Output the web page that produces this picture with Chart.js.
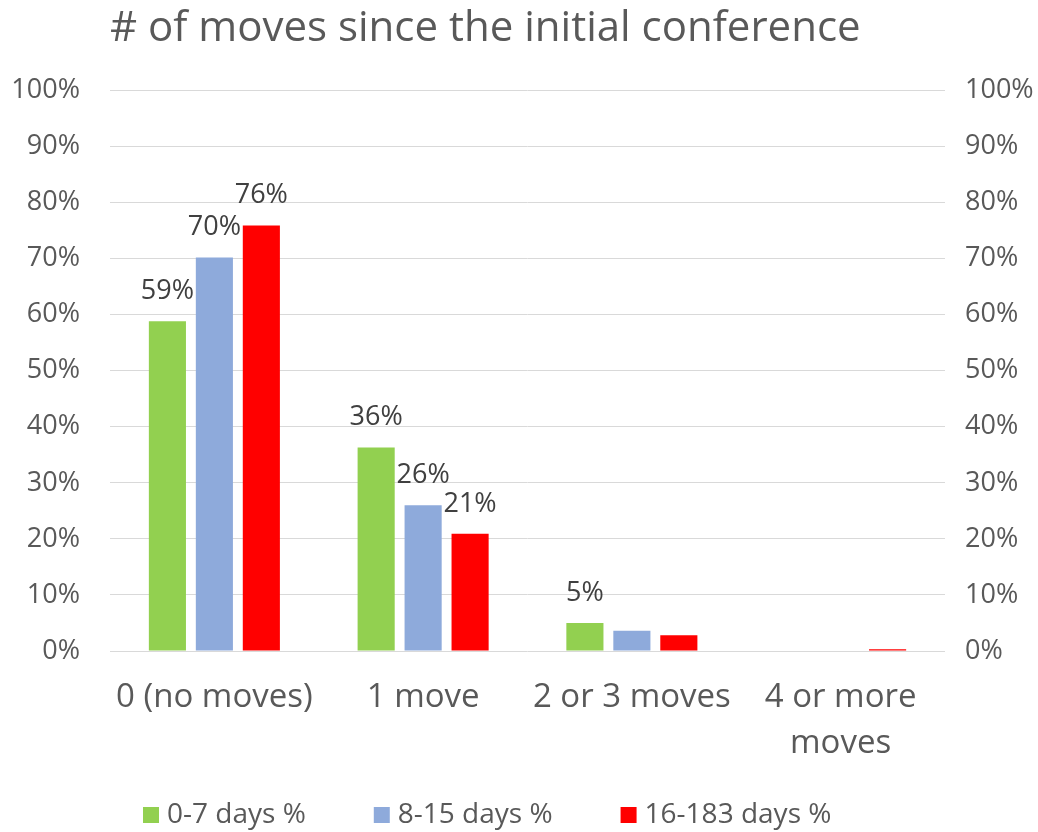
<!DOCTYPE html>
<html>
<head>
<meta charset="utf-8">
<script src="https://cdn.jsdelivr.net/npm/chart.js@4"></script>
<style>
  html, body { margin: 0; padding: 0; background: #fff; }
</style>
</head>
<body>
<canvas id="myChart" width="1038" height="832"></canvas>
<script>
// categories on the x axis (last one wraps on two lines)
const categories = ['0 (no moves)', '1 move', '2 or 3 moves', ['4 or more', 'moves']];
const seriesNames = ['0-7 days %', '8-15 days %', '16-183 days %'];
// percentages
const days0to7 = [58.8, 36.3, 5.0, 0];
const days8to15 = [70.2, 26.0, 3.6, 0];
const days16to183 = [75.9, 20.9, 2.8, 0.3];
const seriesColors = ['#92d050', '#8eaadb', '#ff0000'];

const FONT = 'Open Sans';

// value labels above the bars (small ones are left out, like the original)
const barLabels = {
    id: 'barLabels',
    afterDatasetsDraw(chart) {
        const ctx = chart.ctx;
        ctx.save();
        ctx.font = '27px "' + FONT + '"';
        ctx.fillStyle = '#404040';
        ctx.textAlign = 'center';
        ctx.textBaseline = 'middle';
        chart.data.datasets.forEach((ds, i) => {
            chart.getDatasetMeta(i).data.forEach((bar, j) => {
                const v = ds.data[j];
                if (v < 4.5) return;
                ctx.fillText(Math.round(v) + '%', bar.x, bar.y - 30);
            });
        });
        ctx.restore();
    }
};

// legend row at the bottom, drawn by hand so the spacing matches
const bottomLegend = {
    id: 'bottomLegend',
    afterDraw(chart) {
        const ctx = chart.ctx;
        ctx.save();
        ctx.font = '28px "' + FONT + '"';
        ctx.textAlign = 'left';
        ctx.textBaseline = 'middle';
        let x = 143;
        const y = 815;
        chart.data.datasets.forEach(ds => {
            ctx.fillStyle = ds.backgroundColor;
            ctx.fillRect(x, y - 8, 16, 16);
            x += 24;
            ctx.fillStyle = '#595959';
            ctx.fillText(ds.label, x, y);
            x += ctx.measureText(ds.label).width + 68;
        });
        ctx.restore();
    }
};

const pct = v => v + '%';
const tickFont = { family: FONT, size: 27 };

const ctx = document.getElementById('myChart').getContext('2d');
const myChart = new Chart(ctx, {
    type: 'bar',
    data: {
        labels: categories,
        datasets: [
            { label: seriesNames[0], data: days0to7, backgroundColor: seriesColors[0] },
            { label: seriesNames[1], data: days8to15, backgroundColor: seriesColors[1] },
            { label: seriesNames[2], data: days16to183, backgroundColor: seriesColors[2] },
        ],
    },
    options: {
        responsive: false,
        animation: false,
        devicePixelRatio: 1,
        categoryPercentage: 0.675,
        barPercentage: 0.79,
        layout: { padding: { left: 0, right: 0, top: 0, bottom: 68 } },
        plugins: {
            legend: { display: false },
            tooltip: { enabled: false },
            title: {
                display: true,
                text: '# of moves since the initial conference',
                align: 'start',
                fullSize: false,
                color: '#595959',
                font: { family: FONT, size: 42, weight: 400 },
                padding: { top: 4, bottom: 36 },
            },
        },
        scales: {
            x: {
                grid: { display: false, drawTicks: false },
                border: { display: false },
                ticks: {
                    color: '#595959',
                    font: { family: FONT, size: 33, lineHeight: 1.4 },
                    padding: 23,
                    maxRotation: 0,
                    autoSkip: false,
                },
                afterFit(scale) { scale.height = 113; },
            },
            y: {
                position: 'left',
                min: 0,
                max: 100,
                border: { display: false },
                grid: { color: '#d9d9d9', lineWidth: 1, drawTicks: false },
                ticks: { stepSize: 10, callback: pct, color: '#595959', font: tickFont, padding: 30 },
                afterFit(scale) { scale.width = 110; },
            },
            y2: {
                position: 'right',
                min: 0,
                max: 100,
                border: { display: false },
                grid: { display: false, drawTicks: false },
                ticks: { stepSize: 10, callback: pct, color: '#595959', font: tickFont, padding: 20 },
                afterFit(scale) { scale.width = 93; },
            },
        },
    },
    plugins: [barLabels, bottomLegend],
});
</script>
</body>
</html>
